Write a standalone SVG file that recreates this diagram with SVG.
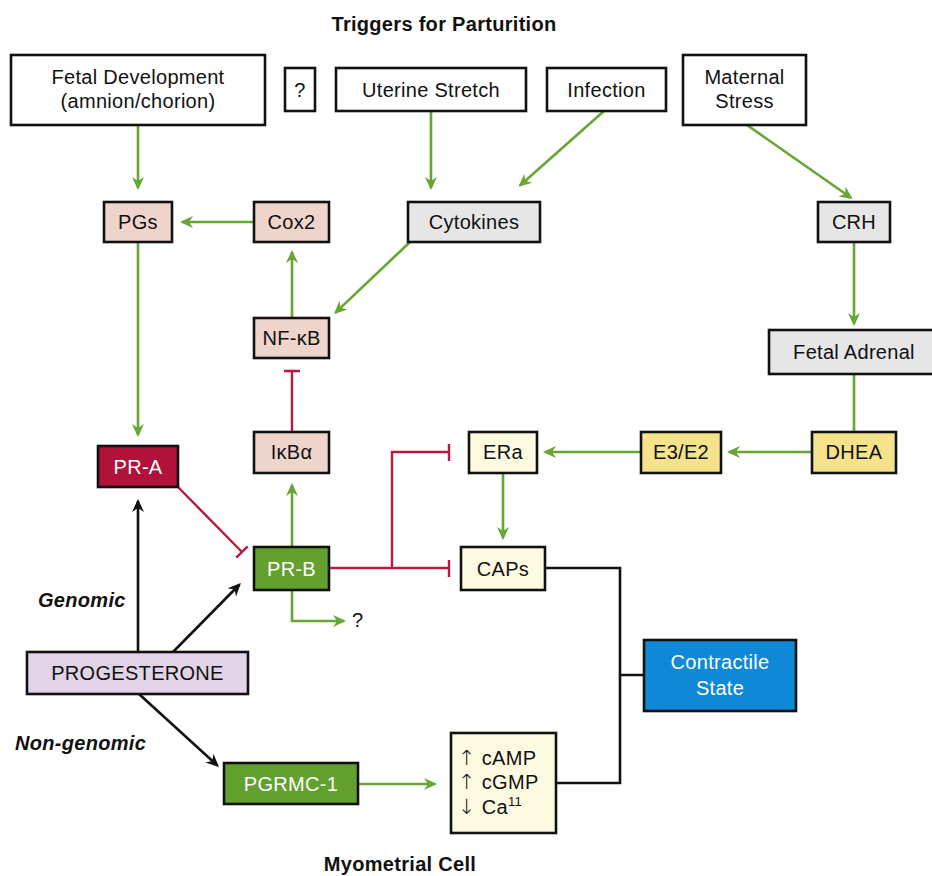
<svg xmlns="http://www.w3.org/2000/svg" width="932" height="876" viewBox="0 0 932 876">
<style>
text{font-family:"Liberation Sans",Arial,Helvetica,sans-serif;font-size:20px;letter-spacing:0.3px;fill:#111}
.c{text-anchor:middle}
.w{fill:#fff}
.b{font-weight:bold}
.bi{font-weight:bold;font-style:italic}
.ar{font-family:"DejaVu Sans",sans-serif;font-size:21px;font-weight:200}
rect{stroke:#111;stroke-width:2.6}
.wh{fill:#fff}.pk{fill:#eed4ca}.gr{fill:#e6e6e6}.ly{fill:#fdfae2}.yl{fill:#f4e38b}.lv{fill:#e1d4e8}.gn{fill:#63a12e}.rd{fill:#b0123a}.bl{fill:#0f88d7}
.g{stroke:#67a534;stroke-width:2.6;fill:none}
.r{stroke:#bb1840;stroke-width:2.4;fill:none}
.k{stroke:#111;stroke-width:2.6;fill:none}
</style>
<defs>
<marker id="ag" markerUnits="userSpaceOnUse" markerWidth="14" markerHeight="14" viewBox="0 0 14 14" refX="11" refY="7" orient="auto"><path d="M0,1 L13,7 L0,13 L4,7 z" fill="#67a534"/></marker>
<marker id="ak" markerUnits="userSpaceOnUse" markerWidth="14" markerHeight="14" viewBox="0 0 14 14" refX="11" refY="7" orient="auto"><path d="M0,1 L13,7 L0,13 L4,7 z" fill="#111"/></marker>
</defs>
<text class="c b" x="444" y="31" font-size="20.5">Triggers for Parturition</text>
<text class="c b" x="400" y="871">Myometrial Cell</text>
<text class="bi" x="38" y="607">Genomic</text>
<text class="bi" x="15" y="750">Non-genomic</text>
<g id="connectors">
<path class="g" marker-end="url(#ag)" d="M138,125 V188"/>
<path class="g" marker-end="url(#ag)" d="M431,111 V188"/>
<path class="g" marker-end="url(#ag)" d="M254,222 H182"/>
<path class="g" marker-end="url(#ag)" d="M604,111 L520,185.5"/>
<path class="g" marker-end="url(#ag)" d="M747,125 L851,197.8"/>
<path class="g" marker-end="url(#ag)" d="M410,242 L335.5,312.6"/>
<path class="g" marker-end="url(#ag)" d="M292,318 V252"/>
<path class="g" marker-end="url(#ag)" d="M854,242 V324"/>
<path class="g" d="M854,374 V432"/>
<path class="g" marker-end="url(#ag)" d="M812,452 H729"/>
<path class="g" marker-end="url(#ag)" d="M641,452 H545"/>
<path class="g" marker-end="url(#ag)" d="M503,473 V538"/>
<path class="g" marker-end="url(#ag)" d="M138,242 V435"/>
<path class="g" marker-end="url(#ag)" d="M292,547 V485"/>
<path class="g" marker-end="url(#ag)" d="M292,590 V621 H344"/>
<path class="g" marker-end="url(#ag)" d="M358,784 H435"/>
<path class="r" d="M178,487 L242,552 M236.3,557.6 L247.7,546.4"/>
<path class="r" d="M292,432 V371 M284,371 H300"/>
<path class="r" d="M329,568 H449 M449,560 V577"/>
<path class="r" d="M392,568 V452 H449 M449,444 V461"/>
<path class="k" d="M545,568 H620 V783 H556 M620,675 H644"/>
<path class="k" marker-end="url(#ak)" d="M138,652 V501"/>
<path class="k" marker-end="url(#ak)" d="M173,652 L239.5,584.5"/>
<path class="k" marker-end="url(#ak)" d="M139,694 L217.5,765.6"/>
</g>
<g id="fetal-development"><rect class="wh" x="11" y="55" width="254" height="70"/><text class="c" x="138" y="84">Fetal Development</text><text class="c" x="138" y="108">(amnion/chorion)</text></g>
<g id="unknown-trigger"><rect class="wh" x="285" y="68" width="30" height="43"/><text class="c" x="300" y="97">?</text></g>
<g id="uterine-stretch"><rect class="wh" x="336" y="68" width="190" height="43"/><text class="c" x="431" y="97">Uterine Stretch</text></g>
<g id="infection"><rect class="wh" x="547" y="68" width="119" height="43"/><text class="c" x="606.5" y="97">Infection</text></g>
<g id="maternal-stress"><rect class="wh" x="683" y="55" width="123" height="70"/><text class="c" x="744.5" y="84">Maternal</text><text class="c" x="744.5" y="108">Stress</text></g>
<g id="pgs"><rect class="pk" x="104" y="202" width="68" height="40"/><text class="c" x="138" y="229">PGs</text></g>
<g id="cox2"><rect class="pk" x="254" y="202" width="75" height="40"/><text class="c" x="291.5" y="229">Cox2</text></g>
<g id="cytokines"><rect class="gr" x="408" y="202" width="132" height="40"/><text class="c" x="474" y="229">Cytokines</text></g>
<g id="crh"><rect class="gr" x="818" y="202" width="72" height="40"/><text class="c" x="854" y="229">CRH</text></g>
<g id="nfkb"><rect class="pk" x="254" y="318" width="75" height="40"/><text class="c" x="291.5" y="345">NF-κB</text></g>
<g id="fetal-adrenal"><rect class="gr" x="769" y="330" width="170" height="44"/><text class="c" x="854" y="359">Fetal Adrenal</text></g>
<g id="ikba"><rect class="pk" x="254" y="432" width="75" height="41"/><text class="c" x="291.5" y="459">IκBα</text></g>
<g id="era"><rect class="ly" x="469" y="432" width="68" height="41"/><text class="c" x="503" y="459">ERa</text></g>
<g id="e3e2"><rect class="yl" x="641" y="432" width="80" height="41"/><text class="c" x="681" y="459">E3/E2</text></g>
<g id="dhea"><rect class="yl" x="812" y="432" width="84" height="41"/><text class="c" x="854" y="459">DHEA</text></g>
<g id="pra"><rect class="rd" x="98" y="446" width="80" height="41"/><text class="c w" x="138" y="474">PR-A</text></g>
<g id="prb"><rect class="gn" x="254" y="547" width="75" height="43"/><text class="c w" x="291.5" y="576">PR-B</text></g>
<g id="prb-unknown"><text x="352" y="627">?</text></g>
<g id="caps"><rect class="ly" x="461" y="547" width="84" height="43"/><text class="c" x="503" y="576">CAPs</text></g>
<g id="contractile-state"><rect class="bl" x="644" y="640" width="152" height="71"/><text class="c w" x="720" y="669">Contractile</text><text class="c w" x="720" y="695">State</text></g>
<g id="progesterone"><rect class="lv" x="27" y="652" width="221" height="42"/><text class="c" x="137.5" y="680">PROGESTERONE</text></g>
<g id="pgrmc1"><rect class="gn" x="224" y="763" width="134" height="41"/><text class="c w" x="291" y="791">PGRMC-1</text></g>
<g id="second-messengers"><rect class="ly" x="451" y="733" width="105" height="100"/><text x="458" y="765"><tspan class="ar">↑</tspan> cAMP</text><text x="458" y="789"><tspan class="ar">↑</tspan> cGMP</text><text x="458" y="814"><tspan class="ar">↓</tspan> Ca<tspan font-size="13" dy="-8">11</tspan></text></g>
</svg>
